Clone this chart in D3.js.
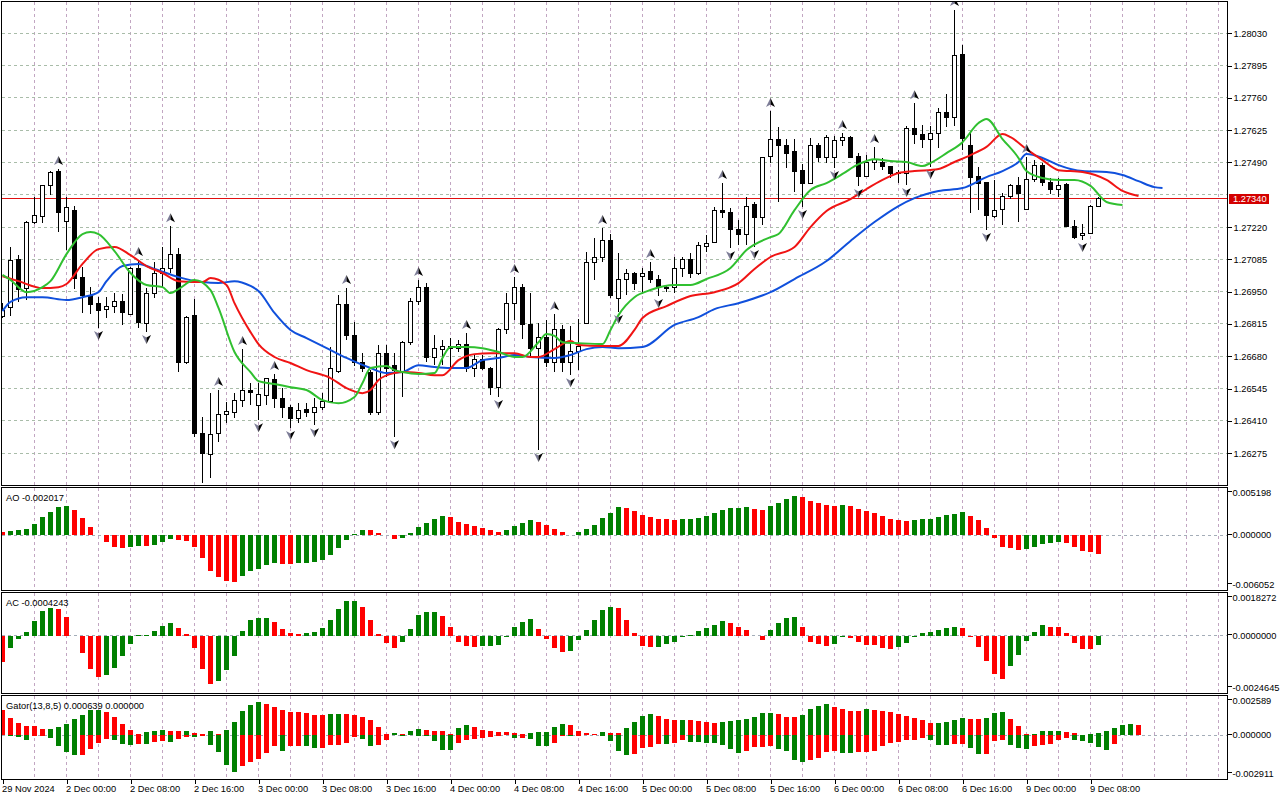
<!DOCTYPE html>
<html>
<head>
<meta charset="utf-8">
<title>GBPUSD H1</title>
<script src="https://cdn.jsdelivr.net/npm/d3@7"></script>
<style>
	body { margin: 0; background: #fff; }
	svg { display: block; font-family: 'Liberation Sans', Arial, sans-serif; font-size: 9.3px; }
	.crisp { shape-rendering: crispEdges; }
</style>
</head>
<body>
<svg id="chart"></svg>
<script>
// H1 candles, bar 0 = 29 Nov 2024 16:00
const openPrices = [
	1.26848, 1.26882, 1.27086, 1.26965, 1.27241, 1.27266, 1.27392, 1.27454, 1.27245, 1.27291,
	1.27011, 1.26932, 1.26902, 1.26877, 1.26886, 1.26907, 1.26856, 1.27045, 1.26819, 1.26944,
	1.27028, 1.27049, 1.27107, 1.26652, 1.26852, 1.26359, 1.26271, 1.26359, 1.26438, 1.26447,
	1.26497, 1.26539, 1.26476, 1.26518, 1.26581, 1.26505, 1.26464, 1.26422, 1.26459, 1.26443,
	1.26468, 1.26489, 1.26618, 1.26898, 1.26765, 1.26656, 1.26614, 1.26443, 1.26693, 1.26643,
	1.26614, 1.26739, 1.26911, 1.26969, 1.26673, 1.26710, 1.26714, 1.26714, 1.26731, 1.26631,
	1.26668, 1.26631, 1.26551, 1.26794, 1.26902, 1.26969, 1.26811, 1.26714, 1.26760, 1.26656,
	1.26794, 1.26652, 1.26698, 1.26815, 1.27074, 1.27091, 1.27162, 1.26923, 1.27003, 1.27024,
	1.27015, 1.27036, 1.27003, 1.26969, 1.26969, 1.27049, 1.27086, 1.27024, 1.27137, 1.27157,
	1.27291, 1.27279, 1.27212, 1.27187, 1.27316, 1.27262, 1.27513, 1.27588, 1.27563, 1.27534,
	1.27458, 1.27404, 1.27563, 1.27509, 1.27509, 1.27580, 1.27596, 1.27513, 1.27433, 1.27488,
	1.27492, 1.27475, 1.27442, 1.27446, 1.27634, 1.27609, 1.27588, 1.27613, 1.27701, 1.27680,
	1.27943, 1.27559, 1.27433, 1.27408, 1.27266, 1.27295, 1.27346, 1.27392, 1.27295, 1.27417,
	1.27479, 1.27408, 1.27379, 1.27396, 1.27224, 1.27183, 1.27195, 1.27304
];
const highPrices = [
	1.26902, 1.27137, 1.27103, 1.27245, 1.27346, 1.27396, 1.27454, 1.27463, 1.27346, 1.27308,
	1.27053, 1.26969, 1.26927, 1.26927, 1.26944, 1.26940, 1.27053, 1.27082, 1.26965, 1.27074,
	1.27137, 1.27224, 1.27132, 1.26848, 1.26919, 1.26426, 1.26526, 1.26539, 1.26489, 1.26526,
	1.26710, 1.26568, 1.26568, 1.26589, 1.26606, 1.26547, 1.26476, 1.26484, 1.26484, 1.26505,
	1.26526, 1.26719, 1.26936, 1.26965, 1.26823, 1.26693, 1.26622, 1.26727, 1.26727, 1.26693,
	1.26744, 1.26923, 1.26999, 1.26986, 1.26769, 1.26748, 1.26756, 1.26748, 1.26777, 1.26685,
	1.26685, 1.26635, 1.26798, 1.26944, 1.27011, 1.26982, 1.26944, 1.26819, 1.26831, 1.26856,
	1.26811, 1.26806, 1.26836, 1.27116, 1.27174, 1.27216, 1.27191, 1.27111, 1.27045, 1.27032,
	1.27049, 1.27074, 1.27020, 1.26978, 1.27095, 1.27095, 1.27111, 1.27157, 1.27187, 1.27304,
	1.27404, 1.27300, 1.27249, 1.27346, 1.27325, 1.27513, 1.27705, 1.27638, 1.27588, 1.27588,
	1.27483, 1.27592, 1.27571, 1.27605, 1.27600, 1.27613, 1.27600, 1.27529, 1.27521, 1.27555,
	1.27509, 1.27475, 1.27458, 1.27642, 1.27738, 1.27646, 1.27642, 1.27718, 1.27776, 1.28127,
	1.27981, 1.27613, 1.27471, 1.27408, 1.27417, 1.27362, 1.27400, 1.27429, 1.27513, 1.27500,
	1.27488, 1.27425, 1.27425, 1.27404, 1.27249, 1.27233, 1.27312, 1.27346
];
const lowPrices = [
	1.26840, 1.26848, 1.26907, 1.26915, 1.27233, 1.27237, 1.27354, 1.27199, 1.27124, 1.26961,
	1.26861, 1.26856, 1.26798, 1.26840, 1.26861, 1.26811, 1.26852, 1.26798, 1.26781, 1.26923,
	1.26969, 1.27028, 1.26614, 1.26647, 1.26342, 1.26150, 1.26171, 1.26321, 1.26401, 1.26422,
	1.26468, 1.26476, 1.26413, 1.26476, 1.26464, 1.26422, 1.26380, 1.26401, 1.26426, 1.26392,
	1.26455, 1.26484, 1.26610, 1.26748, 1.26639, 1.26614, 1.26434, 1.26434, 1.26593, 1.26342,
	1.26510, 1.26727, 1.26894, 1.26656, 1.26643, 1.26643, 1.26622, 1.26698, 1.26614, 1.26593,
	1.26622, 1.26518, 1.26510, 1.26773, 1.26831, 1.26752, 1.26673, 1.26288, 1.26635, 1.26614,
	1.26614, 1.26601, 1.26622, 1.26815, 1.26999, 1.27074, 1.26923, 1.26865, 1.26936, 1.26957,
	1.26940, 1.26986, 1.26932, 1.26948, 1.26944, 1.27011, 1.27007, 1.27020, 1.27116, 1.27153,
	1.27258, 1.27132, 1.27145, 1.27145, 1.27137, 1.27229, 1.27488, 1.27325, 1.27467, 1.27366,
	1.27304, 1.27400, 1.27492, 1.27488, 1.27467, 1.27559, 1.27509, 1.27392, 1.27429, 1.27458,
	1.27458, 1.27425, 1.27404, 1.27396, 1.27567, 1.27550, 1.27471, 1.27550, 1.27638, 1.27642,
	1.27542, 1.27279, 1.27291, 1.27208, 1.27258, 1.27229, 1.27337, 1.27241, 1.27291, 1.27408,
	1.27392, 1.27358, 1.27346, 1.27220, 1.27170, 1.27166, 1.27191, 1.27304
];
const closePrices = [
	1.26873, 1.27082, 1.26961, 1.27241, 1.27270, 1.27392, 1.27450, 1.27283, 1.27300, 1.27007,
	1.26932, 1.26898, 1.26873, 1.26886, 1.26907, 1.26861, 1.27045, 1.26823, 1.26944, 1.27028,
	1.27049, 1.27107, 1.26652, 1.26844, 1.26359, 1.26275, 1.26355, 1.26438, 1.26451, 1.26497,
	1.26539, 1.26530, 1.26522, 1.26589, 1.26505, 1.26464, 1.26422, 1.26455, 1.26443, 1.26468,
	1.26489, 1.26627, 1.26898, 1.26765, 1.26656, 1.26627, 1.26443, 1.26693, 1.26631, 1.26622,
	1.26739, 1.26911, 1.26969, 1.26673, 1.26714, 1.26719, 1.26719, 1.26731, 1.26627, 1.26668,
	1.26631, 1.26551, 1.26794, 1.26902, 1.26969, 1.26811, 1.26714, 1.26760, 1.26656, 1.26794,
	1.26652, 1.26698, 1.26719, 1.27074, 1.27091, 1.27162, 1.26936, 1.27003, 1.27028, 1.26986,
	1.27028, 1.26999, 1.26969, 1.26965, 1.27049, 1.27086, 1.27024, 1.27141, 1.27153, 1.27291,
	1.27279, 1.27212, 1.27187, 1.27308, 1.27262, 1.27509, 1.27588, 1.27559, 1.27529, 1.27454,
	1.27404, 1.27563, 1.27509, 1.27596, 1.27580, 1.27596, 1.27509, 1.27433, 1.27488, 1.27504,
	1.27475, 1.27446, 1.27450, 1.27634, 1.27605, 1.27588, 1.27613, 1.27701, 1.27680, 1.27939,
	1.27592, 1.27429, 1.27404, 1.27270, 1.27291, 1.27346, 1.27392, 1.27362, 1.27421, 1.27479,
	1.27408, 1.27379, 1.27392, 1.27224, 1.27178, 1.27195, 1.27308, 1.27340
];

// fractal bars
const fractalUp = [7, 17, 21, 27, 30, 34, 43, 52, 58, 64, 69, 75, 81, 90, 96, 105, 109, 114, 119, 128];
const fractalDown = [12, 18, 25, 32, 36, 39, 49, 62, 67, 71, 77, 82, 91, 94, 100, 104, 107, 113, 116, 123, 135];

// alligator lines: [bar, price] (shifted forward, so they run past the last bar)
const jawLine = [
	[0, 1.26869], [1, 1.26907], [3, 1.26927], [5, 1.26927], [8, 1.26915], [10, 1.26927], [12, 1.26948],
	[13, 1.26994], [15, 1.27057], [17, 1.27066], [19, 1.27045], [22, 1.27011], [25, 1.26990], [27, 1.26986],
	[29, 1.26994], [31, 1.26974], [32, 1.26953], [34, 1.26861], [36, 1.26790], [38, 1.26756], [41, 1.26706],
	[43, 1.26673], [46, 1.26631], [48, 1.26610], [50, 1.26614], [52, 1.26643], [54, 1.26635], [56, 1.26631],
	[58, 1.26631], [60, 1.26664], [62, 1.26673], [64, 1.26685], [66, 1.26677], [69, 1.26673], [71, 1.26685],
	[73, 1.26710], [75, 1.26719], [77, 1.26714], [80, 1.26719], [84, 1.26811], [87, 1.26844], [89, 1.26877],
	[92, 1.26902], [96, 1.26948], [99, 1.27003], [103, 1.27078], [106, 1.27162], [109, 1.27241], [112, 1.27308],
	[114, 1.27341], [117, 1.27371], [120, 1.27383], [123, 1.27429], [125, 1.27454], [127, 1.27492], [128, 1.27525],
	[130, 1.27509], [132, 1.27479], [135, 1.27454], [138, 1.27450], [140, 1.27438], [142, 1.27412], [144, 1.27387],
	[145, 1.27383]
];
const teethLine = [
	[0, 1.27015], [2, 1.26994], [5, 1.26965], [7, 1.26969], [8, 1.26982], [10, 1.27066], [12, 1.27128],
	[14, 1.27137], [16, 1.27103], [18, 1.27057], [20, 1.27028], [22, 1.26994], [25, 1.26990], [26, 1.27007],
	[28, 1.26978], [29, 1.26902], [31, 1.26781], [32, 1.26731], [34, 1.26677], [36, 1.26652], [38, 1.26622],
	[41, 1.26589], [43, 1.26547], [45, 1.26526], [46, 1.26539], [47, 1.26581], [49, 1.26610], [50, 1.26614],
	[52, 1.26610], [54, 1.26601], [55, 1.26601], [57, 1.26664], [59, 1.26689], [61, 1.26693], [64, 1.26693],
	[66, 1.26677], [67, 1.26677], [69, 1.26710], [71, 1.26744], [72, 1.26727], [75, 1.26723], [77, 1.26723],
	[79, 1.26790], [80, 1.26840], [83, 1.26890], [86, 1.26932], [89, 1.26948], [92, 1.26986], [94, 1.27045],
	[96, 1.27095], [99, 1.27137], [101, 1.27220], [103, 1.27287], [106, 1.27337], [108, 1.27379], [110, 1.27417],
	[112, 1.27446], [114, 1.27454], [117, 1.27463], [119, 1.27492], [121, 1.27521], [123, 1.27555], [125, 1.27609],
	[126, 1.27596], [128, 1.27546], [130, 1.27500], [132, 1.27458], [135, 1.27450], [138, 1.27417], [140, 1.27371],
	[142, 1.27350]
];
const lipsLine = [
	[0, 1.27020], [1, 1.26999], [3, 1.26948], [5, 1.26969], [6, 1.26994], [8, 1.27107], [10, 1.27191],
	[11, 1.27199], [12, 1.27191], [14, 1.27120], [16, 1.27028], [18, 1.26978], [20, 1.26969], [21, 1.26944],
	[22, 1.26961], [24, 1.26999], [26, 1.26957], [27, 1.26882], [29, 1.26698], [31, 1.26614], [32, 1.26576],
	[34, 1.26564], [36, 1.26551], [38, 1.26539], [40, 1.26497], [42, 1.26484], [44, 1.26510], [45, 1.26568],
	[46, 1.26631], [48, 1.26639], [49, 1.26622], [50, 1.26614], [52, 1.26606], [54, 1.26610], [55, 1.26673],
	[56, 1.26719], [58, 1.26719], [60, 1.26714], [62, 1.26698], [64, 1.26677], [65, 1.26677], [67, 1.26739],
	[68, 1.26773], [69, 1.26765], [70, 1.26739], [72, 1.26735], [75, 1.26731], [76, 1.26790], [77, 1.26852],
	[79, 1.26927], [81, 1.26957], [84, 1.26978], [86, 1.26978], [88, 1.27003], [91, 1.27049], [93, 1.27124],
	[96, 1.27178], [97, 1.27191], [99, 1.27291], [101, 1.27375], [103, 1.27404], [105, 1.27442], [107, 1.27483],
	[109, 1.27504], [111, 1.27496], [113, 1.27492], [115, 1.27475], [116, 1.27488], [118, 1.27529], [120, 1.27575],
	[122, 1.27655], [123, 1.27672], [125, 1.27588], [127, 1.27509], [128, 1.27454], [130, 1.27425], [132, 1.27417],
	[134, 1.27417], [136, 1.27392], [138, 1.27325], [140, 1.27312]
];

// Awesome Oscillator
const aoValues = [
	0.000299, 0.000443, 0.000554, 0.000665, 0.001219, 0.001994, 0.002548, 0.003102, 0.003213, 0.002770,
	0.001884, 0.000886, 0.000055, -0.000776, -0.001330, -0.001440, -0.001330, -0.001186, -0.001197, -0.001108,
	-0.000776, -0.000443, -0.000587, -0.000665, -0.001330, -0.002548, -0.003878, -0.004543, -0.004986, -0.005097,
	-0.004432, -0.003878, -0.003656, -0.003291, -0.003102, -0.003180, -0.003191, -0.003102, -0.003091, -0.002992,
	-0.002770, -0.002216, -0.001440, -0.000554, 0.000111, 0.000554, 0.000521, 0.000255, 0.000033, -0.000443,
	-0.000299, 0.000222, 0.000886, 0.001330, 0.001773, 0.002105, 0.001994, 0.001440, 0.001219, 0.000997,
	0.000776, 0.000554, 0.000332, 0.000554, 0.000997, 0.001330, 0.001662, 0.001440, 0.001108, 0.000665,
	0.000332, -0.000033, 0.000332, 0.000665, 0.001108, 0.001884, 0.002438, 0.003014, 0.002992, 0.002659,
	0.002216, 0.001994, 0.001806, 0.001795, 0.001695, 0.001706, 0.001806, 0.001917, 0.002105, 0.002438,
	0.002770, 0.002992, 0.003003, 0.003014, 0.002881, 0.002770, 0.003213, 0.003546, 0.003989, 0.004321,
	0.004210, 0.003767, 0.003546, 0.003324, 0.003213, 0.003324, 0.003213, 0.002881, 0.002659, 0.002438,
	0.002105, 0.001773, 0.001662, 0.001551, 0.001662, 0.001773, 0.001784, 0.001994, 0.002216, 0.002327,
	0.002548, 0.002105, 0.001662, 0.000776, -0.000299, -0.001330, -0.001440, -0.001662, -0.001551, -0.001330,
	-0.000997, -0.000886, -0.000776, -0.000886, -0.001330, -0.001773, -0.001884, -0.002017
];

// Accelerator Oscillator
const acValues = [
	-0.001141, -0.000543, -0.000158, 0.000128, 0.000599, 0.001026, 0.001154, 0.001112, 0.000770, -0.000013,
	-0.000757, -0.001441, -0.001783, -0.001697, -0.001398, -0.000885, -0.000372, 0.000013, 0.000030, 0.000171,
	0.000385, 0.000513, 0.000299, 0.000043, -0.000543, -0.001441, -0.002082, -0.001924, -0.001483, -0.000885,
	0.000171, 0.000641, 0.000740, 0.000744, 0.000556, 0.000257, 0.000086, 0.000077, 0.000094, 0.000128,
	0.000299, 0.000641, 0.001112, 0.001454, 0.001458, 0.001197, 0.000641, 0.000043, -0.000329, -0.000543,
	-0.000286, 0.000286, 0.000855, 0.000983, 0.000988, 0.000812, 0.000342, -0.000257, -0.000457, -0.000500,
	-0.000457, -0.000453, -0.000415, -0.000073, 0.000342, 0.000556, 0.000684, 0.000257, -0.000158, -0.000543,
	-0.000714, -0.000671, -0.000201, 0.000214, 0.000641, 0.001069, 0.001197, 0.001154, 0.000641, 0.000086,
	-0.000428, -0.000500, -0.000496, -0.000372, -0.000257, -0.000043, 0.000013, 0.000171, 0.000299, 0.000428,
	0.000599, 0.000513, 0.000342, 0.000214, -0.000021, -0.000201, 0.000214, 0.000513, 0.000727, 0.000770,
	0.000342, -0.000257, -0.000372, -0.000457, -0.000372, -0.000073, -0.000115, -0.000286, -0.000415, -0.000419,
	-0.000543, -0.000586, -0.000500, -0.000329, -0.000073, 0.000086, 0.000141, 0.000227, 0.000299, 0.000342,
	0.000338, -0.000073, -0.000500, -0.001099, -0.001654, -0.001868, -0.001312, -0.000842, -0.000244, 0.000141,
	0.000428, 0.000355, 0.000342, 0.000086, -0.000329, -0.000586, -0.000590, -0.0004243
];

// Gator oscillator: upper |jaw - teeth|, lower |teeth - lips| (drawn below zero)
const gatorUpper = [
	0.001637, 0.001113, 0.000786, 0.000622, 0.000589, 0.000393, 0.000399, 0.000524, 0.000720, 0.001048,
	0.001310, 0.001637, 0.001644, 0.001506, 0.001179, 0.000720, 0.000327, 0.000098, 0.000196, 0.000262,
	0.000327, 0.000262, 0.000255, 0.000262, 0.000131, 0.000065, 0.000262, 0.000065, 0.000327, 0.000851,
	0.001572, 0.001964, 0.002161, 0.002030, 0.001833, 0.001637, 0.001506, 0.001500, 0.001441, 0.001310,
	0.001303, 0.001375, 0.001382, 0.001375, 0.001310, 0.001179, 0.000982, 0.000524, 0.000065, 0.000131,
	0.000065, 0.000262, 0.000393, 0.000327, 0.000262, 0.000255, 0.000065, 0.000458, 0.000655, 0.000524,
	0.000327, 0.000262, 0.000196, 0.000190, 0.000131, 0.000065, 0.000131, 0.000196, 0.000203, 0.000524,
	0.000720, 0.000674, 0.000282, 0.000151, 0.000085, 0.000216, 0.000151, 0.000144, 0.000478, 0.000871,
	0.001264, 0.001395, 0.001264, 0.001067, 0.001002, 0.001008, 0.001002, 0.000936, 0.000871, 0.000805,
	0.000871, 0.000936, 0.001002, 0.001067, 0.001198, 0.001460, 0.001467, 0.001395, 0.001198, 0.001192,
	0.001329, 0.001722, 0.001919, 0.002050, 0.001853, 0.001722, 0.001591, 0.001585, 0.001722, 0.001657,
	0.001591, 0.001526, 0.001395, 0.001264, 0.001133, 0.001002, 0.000786, 0.000805, 0.000871, 0.001002,
	0.001133, 0.001067, 0.001061, 0.001133, 0.001460, 0.001526, 0.001067, 0.000609, 0.000085, 0.000092,
	0.000282, 0.000288, 0.000295, 0.000216, 0.000151, 0.000020, 0.000085, 0.000151, 0.000282, 0.000478,
	0.000674, 0.000740, 0.000639
];
const gatorLower = [
	0.000020, 0.000033, 0.000151, 0.000347, 0.000065, 0.000033, 0.000216, 0.000740, 0.001133, 0.001329,
	0.001323, 0.000936, 0.000543, 0.000262, 0.000347, 0.000609, 0.000674, 0.000609, 0.000616, 0.000478,
	0.000413, 0.000478, 0.000282, 0.000131, 0.000151, 0.000065, 0.000674, 0.001133, 0.001984, 0.002403,
	0.002050, 0.001788, 0.001591, 0.001198, 0.000720, 0.001067, 0.000740, 0.000733, 0.000740, 0.000871,
	0.000864, 0.000674, 0.000668, 0.000543, 0.000151, 0.000282, 0.000740, 0.000674, 0.000347, 0.000020,
	0.000033, 0.000026, 0.000039, 0.000046, 0.000393, 0.000982, 0.000989, 0.000524, 0.000327, 0.000262,
	0.000196, 0.000131, 0.000033, 0.000026, 0.000196, 0.000190, 0.000262, 0.000720, 0.000727, 0.000524,
	0.000033, 0.000085, 0.000033, 0.000020, 0.000013, 0.000033, 0.000413, 0.001067, 0.001329, 0.001264,
	0.000851, 0.000766, 0.000609, 0.000616, 0.000543, 0.000347, 0.000439, 0.000478, 0.000543, 0.000550,
	0.000674, 0.000897, 0.001198, 0.001067, 0.000805, 0.000799, 0.000740, 0.000936, 0.001028, 0.001617,
	0.001748, 0.001617, 0.001486, 0.001094, 0.001028, 0.001159, 0.001166, 0.001094, 0.001087, 0.001028,
	0.000701, 0.000504, 0.000439, 0.000308, 0.000301, 0.000177, 0.000308, 0.000635, 0.000642, 0.000570,
	0.000563, 0.000832, 0.001224, 0.001218, 0.000373, 0.000308, 0.000635, 0.000832, 0.000897, 0.000701,
	0.000635, 0.000570, 0.000308, 0.000177, 0.000308, 0.000373, 0.000504, 0.000766, 0.000963, 0.000570,
	0.000020
];

// axis labels
const priceTicks = [1.28030, 1.27895, 1.27760, 1.27625, 1.27490, 1.27355, 1.27220, 1.27085, 1.26950, 1.26815, 1.26680, 1.26545, 1.26410, 1.26275];
const timeLabels = ['29 Nov 2024', '2 Dec 00:00', '2 Dec 08:00', '2 Dec 16:00', '3 Dec 00:00', '3 Dec 08:00', '3 Dec 16:00',
	'4 Dec 00:00', '4 Dec 08:00', '4 Dec 16:00', '5 Dec 00:00', '5 Dec 08:00', '5 Dec 16:00', '6 Dec 00:00',
	'6 Dec 08:00', '6 Dec 16:00', '9 Dec 00:00', '9 Dec 08:00'];
const aoRange = [-0.006052, 0.005198];
const acRange = [-0.0024645, 0.0018272];
const gatorRange = [-0.002911, 0.002589];

const width = 1280, height = 800;
const frameLeft = 1.5, frameRight = 1227.5;
const panels = {
	main: { top: 1.5, bottom: 485.5 },
	ao: { top: 487.5, bottom: 590.5 },
	ac: { top: 592.5, bottom: 693.5 },
	gator: { top: 695.5, bottom: 779.5 }
};
const green = '#008000', red = '#ff0000';

const svg = d3.select('#chart')
	.attr('width', width)
	.attr('height', height);

const xScale = d3.scaleLinear()
	.domain([0, 152])
	.range([2.5, 1218.5]);

const yPrice = d3.scaleLinear()
	.domain([1.26142, 1.28165])
	.range([485, 1]);

const panelScale = (p, range) => d3.scaleLinear()
	.domain(range)
	.range([p.bottom, p.top]);

const yAO = panelScale(panels.ao, aoRange);
const yAC = panelScale(panels.ac, acRange);
const yGator = panelScale(panels.gator, gatorRange);

const snap = v => Math.round(v - 0.5) + 0.5;

const lastClose = closePrices[closePrices.length - 1];
const tagY = yPrice(lastClose);

// clip paths, one per panel
const defs = svg.append('defs');
Object.entries(panels).forEach(([key, p]) => {
	defs.append('clipPath')
		.attr('id', `clip-${key}`)
		.append('rect')
		.attr('x', frameLeft + 0.5)
		.attr('y', p.top + 0.5)
		.attr('width', frameRight - frameLeft - 1)
		.attr('height', p.bottom - p.top - 1);
});
// the price tag hides the lower part of the scale label behind it
defs.append('clipPath')
	.attr('id', 'clip-scale')
	.append('rect')
	.attr('x', frameRight)
	.attr('y', 0)
	.attr('width', width - frameRight)
	.attr('height', Math.round(tagY) - 4.5);

const layer = key => svg.append('g').attr('clip-path', `url(#clip-${key})`);

// vertical grid in every panel
const gridBars = d3.range(4, 153, 4);
Object.keys(panels).forEach(key => {
	const p = panels[key];
	layer(key).selectAll('line')
		.data(gridBars)
		.enter()
		.append('line')
		.attr('class', 'crisp')
		.attr('x1', d => xScale(d))
		.attr('x2', d => xScale(d))
		.attr('y1', p.top)
		.attr('y2', p.bottom)
		.style('stroke', '#c2a6c2')
		.style('stroke-dasharray', '3,3');
});

// main chart
const main = layer('main');

main.selectAll('.hgrid')
	.data(priceTicks)
	.enter()
	.append('line')
	.attr('class', 'crisp')
	.attr('x1', frameLeft)
	.attr('x2', frameRight)
	.attr('y1', d => snap(yPrice(d)))
	.attr('y2', d => snap(yPrice(d)))
	.style('stroke', '#a9bca9')
	.style('stroke-dasharray', '3,3');

main.append('line')
	.attr('class', 'crisp')
	.attr('x1', frameLeft)
	.attr('x2', frameRight)
	.attr('y1', snap(tagY))
	.attr('y2', snap(tagY))
	.style('stroke', '#e01010');

// candles
const candles = main.selectAll('.candle')
	.data(openPrices.map((o, i) => ({ i, o, h: highPrices[i], l: lowPrices[i], c: closePrices[i] })))
	.enter()
	.append('g')
	.attr('class', 'candle');

candles.append('line')
	.attr('class', 'crisp')
	.attr('x1', d => xScale(d.i))
	.attr('x2', d => xScale(d.i))
	.attr('y1', d => yPrice(d.h))
	.attr('y2', d => yPrice(d.l))
	.style('stroke', '#000');

candles.append('rect')
	.attr('class', 'crisp')
	.attr('x', d => xScale(d.i) - 2)
	.attr('width', 4)
	.attr('y', d => yPrice(Math.max(d.o, d.c)))
	.attr('height', d => Math.max(0.5, Math.abs(yPrice(d.o) - yPrice(d.c))))
	.style('fill', d => d.c >= d.o ? '#fff' : '#000')
	.style('stroke', '#000');

// alligator
const alligator = d3.line()
	.x(d => xScale(d[0]))
	.y(d => yPrice(d[1]))
	.curve(d3.curveMonotoneX);

[[jawLine, '#1050dc'], [teethLine, '#f01414'], [lipsLine, '#30c030']].forEach(([pts, colour]) => {
	main.append('path')
		.datum(pts)
		.attr('d', alligator)
		.style('fill', 'none')
		.style('stroke', colour)
		.style('stroke-width', 2);
});

// fractal arrows
const arrow = (g, bars, up) => {
	const marks = g.selectAll(up ? '.fup' : '.fdown')
		.data(bars)
		.enter()
		.append('g')
		.attr('transform', d => up
			? `translate(${xScale(d)},${yPrice(highPrices[d]) - 8})`
			: `translate(${xScale(d)},${yPrice(lowPrices[d]) + 7})`);
	const s = up ? 1 : -1;
	marks.append('path')
		.attr('d', `M0,${-5 * s}L0,${1.5 * s}L-4.5,${4 * s}Z`)
		.style('fill', '#7c7c96');
	marks.append('path')
		.attr('d', `M0,${-5 * s}L4.5,${4 * s}L0,${1.5 * s}Z`)
		.style('fill', '#000');
};
arrow(main, fractalUp, true);
arrow(main, fractalDown, false);

// histograms
const histogram = (key, values, y, sign) => {
	const g = layer(key);
	const zero = snap(y(0));
	g.append('line')
		.attr('class', 'crisp')
		.attr('x1', frameLeft)
		.attr('x2', frameRight)
		.attr('y1', zero)
		.attr('y2', zero)
		.style('stroke', '#a4adb8')
		.style('stroke-dasharray', '3,3');
	g.selectAll('.bar')
		.data(values)
		.enter()
		.append('rect')
		.attr('class', 'crisp')
		.attr('x', (d, i) => xScale(i) - 2.5)
		.attr('width', 5)
		.attr('y', d => Math.min(y(sign * d), y(0)))
		.attr('height', d => Math.abs(y(sign * d) - y(0)))
		.style('fill', (d, i) => i > 0 && d > values[i - 1] ? green : red);
};
histogram('ao', aoValues, yAO, 1);
histogram('ac', acValues, yAC, 1);
histogram('gator', gatorUpper, yGator, 1);
histogram('gator', gatorLower, yGator, -1);

// panel frames
Object.values(panels).forEach(p => {
	svg.append('rect')
		.attr('class', 'crisp')
		.attr('x', frameLeft)
		.attr('y', p.top)
		.attr('width', frameRight - frameLeft)
		.attr('height', p.bottom - p.top)
		.style('fill', 'none')
		.style('stroke', '#000');
});

// price axis
svg.append('g')
	.attr('transform', `translate(${frameRight},0)`)
	.call(d3.axisRight(yPrice)
		.tickValues(priceTicks)
		.tickSize(4)
		.tickPadding(2)
		.tickFormat(d3.format('.5f')))
	.call(g => g.select('.domain').remove())
	.call(g => g.attr('font-size', null).attr('font-family', null))
	.call(g => g.selectAll('line').attr('class', 'crisp'))
	.call(g => g.selectAll('.tick')
		.filter(d => Math.abs(yPrice(d) - tagY) < 8)
		.attr('clip-path', 'url(#clip-scale)'));

// current price tag
svg.append('rect')
	.attr('class', 'crisp')
	.attr('x', 1229)
	.attr('y', Math.round(tagY) - 4.5)
	.attr('width', 40)
	.attr('height', 10)
	.style('fill', '#d40000');
svg.append('text')
	.attr('x', 1233)
	.attr('y', tagY)
	.attr('dy', '0.34em')
	.style('fill', '#fff')
	.text(d3.format('.5f')(lastClose));

// time axis
svg.append('g')
	.attr('transform', `translate(0,${panels.gator.bottom})`)
	.call(d3.axisBottom(xScale)
		.tickValues(timeLabels.map((d, i) => i * 8))
		.tickSize(4)
		.tickFormat((d, i) => timeLabels[i]))
	.call(g => g.select('.domain').remove())
	.call(g => g.attr('font-size', null).attr('font-family', null))
	.call(g => g.selectAll('line').attr('class', 'crisp'))
	.call(g => g.selectAll('text')
		.attr('text-anchor', 'start')
		.attr('x', -1)
		.attr('y', 5.5));

// sub-window scales and titles
const subAxis = (p, range, digits, title) => {
	const labels = [
		{ v: range[1], y: p.top + 8 },
		{ v: 0, y: (p.top + (p.bottom - p.top) * range[1] / (range[1] - range[0])) + 3.3 },
		{ v: range[0], y: p.bottom - 3 }
	];
	svg.selectAll(null)
		.data(labels)
		.enter()
		.append('line')
		.attr('class', 'crisp')
		.attr('x1', frameRight)
		.attr('x2', frameRight + 4)
		.attr('y1', d => snap(d.y - 4))
		.attr('y2', d => snap(d.y - 4))
		.style('stroke', '#000');
	svg.selectAll(null)
		.data(labels)
		.enter()
		.append('text')
		.attr('x', 1232.5)
		.attr('y', d => d.y)
		.text(d => d.v.toFixed(digits));
	svg.append('text')
		.attr('x', 6)
		.attr('y', p.top + 13)
		.text(title);
};
subAxis(panels.ao, aoRange, 6, `AO ${aoValues[aoValues.length - 1].toFixed(6)}`);
subAxis(panels.ac, acRange, 7, `AC ${acValues[acValues.length - 1].toFixed(7)}`);
subAxis(panels.gator, gatorRange, 6,
	`Gator(13,8,5) ${gatorUpper[gatorUpper.length - 1].toFixed(6)} ${(gatorLower[gatorUpper.length - 1] || 0).toFixed(6)}`);
</script>
</body>
</html>
